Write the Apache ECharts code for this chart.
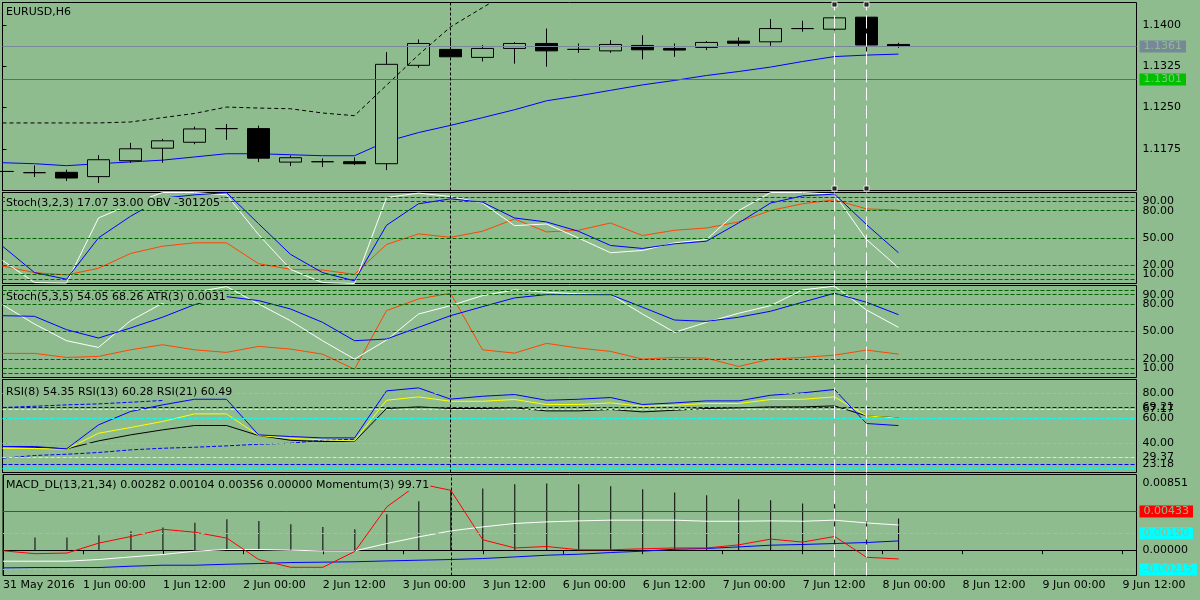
<!DOCTYPE html>
<html>
<head>
<meta charset="utf-8">
<script src="https://cdn.jsdelivr.net/npm/echarts@6.0.0/dist/echarts.min.js"></script>
<style>
html,body{margin:0;padding:0;background:#8FBC8F;}
#chart{width:1200px;height:600px;}
</style>
</head>
<body>
<div id="chart"></div>
<script>
// EURUSD H6, bar 0 = 31 May 2016 (left edge), bar 28 = last bar
var opens  = [1.11338,1.11316,1.11322,1.11244,1.11533,1.11761,1.11869,1.12117,1.12117,1.11508,1.11515,1.11515,1.11479,1.13268,1.13557,1.13412,1.13575,1.13665,1.13557,1.13531,1.13629,1.13575,1.13593,1.13707,1.13695,1.13936,1.13925,1.14143,1.13647];
var highs  = [1.11360,1.11448,1.11371,1.11634,1.11858,1.11931,1.12153,1.12202,1.12171,1.11629,1.11575,1.11593,1.13508,1.13738,1.13756,1.13635,1.13689,1.13936,1.13665,1.13725,1.13815,1.13665,1.13707,1.13774,1.14109,1.14078,1.14155,1.14143,1.13677];
var lows   = [1.11320,1.11237,1.11165,1.11128,1.11497,1.11497,1.11833,1.11913,1.11508,1.11436,1.11418,1.11454,1.11363,1.13224,1.13423,1.13339,1.13298,1.13243,1.13495,1.13495,1.13376,1.13423,1.13545,1.13604,1.13622,1.13879,1.13901,1.13495,1.13586];
var closes = [1.11338,1.11316,1.11219,1.11551,1.11750,1.11895,1.12111,1.12117,1.11580,1.11587,1.11515,1.11479,1.13286,1.13665,1.13423,1.13575,1.13665,1.13531,1.13557,1.13647,1.13550,1.13545,1.13684,1.13670,1.13936,1.13936,1.14131,1.13637,1.13617];
var maLine = [1.11497,1.11479,1.11443,1.11479,1.11511,1.11544,1.11602,1.11660,1.11660,1.11642,1.11624,1.11624,1.11882,1.12045,1.12176,1.12316,1.12460,1.12623,1.12713,1.12813,1.12912,1.12993,1.13083,1.13155,1.13236,1.13337,1.13427,1.13454,1.13472];
var upperDotted = [1.12220,1.12220,1.12220,1.12220,1.12238,1.12316,1.12393,1.12509,1.12491,1.12478,1.12401,1.12352,1.12906,1.13458,1.13965,1.14316,1.14659];

// Stoch(3,2,3) + OBV (OBV read against the 0-100 window)
var stoch1Main   = [25.4,1,0.5,72,87,100,100,97.4,53.8,15.6,1,0,94.5,99.3,95.6,88.4,63.6,65.4,50,33.8,36.3,44.7,48.3,80,100,100,98,48.3,17.4];
var stoch1Signal = [41,12,4.7,50.2,73.8,93.8,97.4,99.9,65.8,32,12,2.9,64,87.6,93,89.4,72,67.6,57.4,41.8,38.5,43.6,46.5,66.5,88.4,96.3,98.2,64.7,33.8];
var obvLine      = [19.2,12,9.4,16.7,33,41,44.7,44.7,21.8,15.6,14.8,10.1,42.9,54.5,50.8,57.4,70.9,56.7,58.5,66.5,52.7,58.5,61,67.6,80.3,87.6,92,82,80.7];

// Stoch(5,3,5) + ATR (ATR read against the 0-100 window)
var stoch2Main   = [79.2,58.1,40,32.7,61.7,80.7,92.7,98.8,80,61.7,40,20,40.7,69,78.1,89,95.2,92.7,90.9,90.1,69,49.1,60,69.8,78.1,95.2,99.3,73.4,54.5];
var stoch2Signal = [67.2,66.5,52,42.9,53.8,65.5,79.2,87.9,83.6,74.5,60,40,41.8,54.5,67.2,77,86.5,90.1,90.1,90,76.4,62.5,61,65.5,72,81.8,91.6,81.8,68.3];
var atrLine      = [26.2,26.2,21.8,22.9,30.1,35.6,30.1,27.3,33.8,30.9,25.4,9,72.7,85.4,91.6,30.1,26.5,37.1,32,28.4,20,21.8,21,12,20,21.8,24.3,29.8,25.4];

var rsi8  = [37.6,37.6,35.7,54.9,65.6,70.9,75.4,75.4,46.9,45.6,44.5,44.5,82.1,84.5,75.5,77.8,79.2,74.6,75.4,76.8,71.2,72.5,74.1,74.1,78.6,80.5,83.2,56,54.35];
var rsi13 = [36.2,36,35.4,48.2,52.8,57.6,63.7,63.7,46.4,44.2,42.9,42.1,74.6,77.3,73.8,73.8,75.2,71.2,71.2,72.5,69.8,70.6,72,72,75.2,75.4,77.3,62.1,60.28];
var rsi21 = [37.6,37,35.7,42.1,46.9,50.9,54.4,54.4,46.4,42.6,41.6,41.6,68,69.3,68,68,68.5,66.1,66.1,67.2,65.3,66.6,68,68.5,69.3,69.3,70.1,62.1,60.49];
var rsiUpperBand = [68.8,69.8,70.9,71.7,73,74.4];
var rsiLowerBand = [28.2,30.4,31.4,32.8,34.9,36.2,37,38.1,39.4,40.2,42.6,43.4];

var macdHist   = [null,0.00142,0.00142,0.00168,0.00213,0.00254,0.00306,0.00347,0.00328,0.00291,0.00261,0.00235,0.00403,0.00548,0.00671,0.00690,0.00738,0.00746,0.00738,0.00716,0.00683,0.00645,0.00615,0.00571,0.00559,0.00522,0.00515,0.00436,0.00356];
var macdMain   = [-0.00123,-0.00123,-0.00123,-0.00104,-0.00075,-0.00048,-0.00011,0.00008,0.00008,0,-0.00008,-0.00008,0.00075,0.00149,0.00216,0.00261,0.00299,0.00317,0.00328,0.00336,0.00336,0.00336,0.00324,0.00324,0.00328,0.00324,0.00336,0.00305,0.00282];
var macdSignal = [-0.00198,-0.00194,-0.00194,-0.00194,-0.00179,-0.00168,-0.00168,-0.00157,-0.00149,-0.00138,-0.00134,-0.00129,-0.00120,-0.00112,-0.00104,-0.00093,-0.00075,-0.00056,-0.00045,-0.00026,-0.00011,0.00011,0.00019,0.00037,0.00056,0.00064,0.00075,0.00086,0.00104];
var momentum   = [99.760,99.742,99.746,99.807,99.847,99.891,99.873,99.837,99.706,99.659,99.659,99.756,100.028,100.169,100.129,99.827,99.777,99.786,99.766,99.766,99.772,99.777,99.777,99.796,99.831,99.813,99.847,99.720,99.71];

var timeLabels = ['31 May 2016','1 Jun 00:00','1 Jun 12:00','2 Jun 00:00','2 Jun 12:00','3 Jun 00:00','3 Jun 12:00','6 Jun 00:00','6 Jun 12:00','7 Jun 00:00','7 Jun 12:00','8 Jun 00:00','8 Jun 12:00','9 Jun 00:00','9 Jun 12:00'];
var priceTicks = [1.1175,1.1250,1.1325,1.1400];
var stochLevels = [5,10,20,50,80,90,95];
var rsiCyanLevels = [20,40,60,80];
var rsiBlueLevels = [23.18,69.21];
var rsiYellowLevels = [29.37,67.17];
var rsiTicks = [20,23.18,29.37,40,60,67.17,69.21,80];
var bidPrice = 1.1361, linePrice = 1.1301;
var macdRedLevel = 0.00433, macdCyanLevels = [0.00190,-0.00215];
var macdTop = 0.00851;
var markedBars = [26,27], cursorBar = 14;

var BG = '#8FBC8F';
var FONT = 'DejaVu Sans';
var BARS_PER_LABEL = 2.5;
var X_MAX = 35.4375;
// window ranges picked so the level lines fall on whole pixel rows
var mainMin = 1.109918, mainMax = 1.1441;
var rsiMin = 16.8, rsiMax = 91.2;
var macdMin = -0.00283, macdMax = 0.00847;

// half-pixel edges keep the 1px frames crisp
var panels = [
	{top:2.5, height:188},
	{top:192.5, height:91},
	{top:285.5, height:92},
	{top:379.5, height:93},
	{top:474.5, height:101}
];

function pts(arr){
	var out = [];
	for(var i=0;i<arr.length;i++){
		out.push([i, arr[i] == null ? null : arr[i]]);
	}
	return out;
}

function line(k, arr, color, z, yIdx){
	return {type:'line', xAxisIndex:k, yAxisIndex:(yIdx == null ? k : yIdx), data:pts(arr),
		symbol:'none', z:z, silent:true, connectNulls:false,
		lineStyle:{color:color, width:1}};
}

// empty series that only carries one group of markLines, styled at series level
function marks(k, items, color, type, z, label){
	return {type:'line', xAxisIndex:k, yAxisIndex:k, data:[], z:z, silent:true, color:color,
		markLine:{silent:true, symbol:'none', precision:6, animation:false,
			lineStyle:{color:color, type:type, width:1, opacity:1},
			label:label || {show:false}, data:items}};
}

function hLevels(vals){
	return vals.map(function(v){ return {yAxis:v}; });
}

function boxLabel(bg, digits){
	return {show:true, position:'end', distance:3, color:BG,
		formatter:function(p){ return (+p.value).toFixed(digits); },
		backgroundColor:bg, padding:[1,4,0,4], fontFamily:FONT, fontSize:11};
}

function vMarks(k){
	return [
		marks(k, [{xAxis:cursorBar}], '#000', [3,2], 5),
		marks(k, markedBars.map(function(b){ return {xAxis:b}; }), '#fff', [13,5], 5)
	];
}

var tickVals = timeLabels.map(function(s,k){ return k*BARS_PER_LABEL; });

var grids = [], xAxes = [], yAxes = [];
panels.forEach(function(p,k){
	grids.push({left:2.5, width:1134, top:p.top, height:p.height, show:true,
		borderColor:'#000', borderWidth:1, backgroundColor:'transparent'});
	var last = (k == panels.length-1);
	xAxes.push({type:'value', gridIndex:k, min:0, max:X_MAX,
		axisLine:{show:last, lineStyle:{color:'#000'}},
		axisTick:{show:last, length:4, customValues:tickVals, lineStyle:{color:'#000'}},
		axisLabel:{show:last, customValues:tickVals, align:'left', margin:4, hideOverlap:false,
			color:'#000', fontFamily:FONT, fontSize:11,
			formatter:function(v){ return timeLabels[Math.round(v/BARS_PER_LABEL)]; }},
		splitLine:{show:false}});
});

function yAxis(k, min, max, ticks, digits){
	return {type:'value', gridIndex:k, position:'right', min:min, max:max,
		axisLine:{show:true, lineStyle:{color:'#000'}},
		axisTick:{show:true, length:4, customValues:ticks, lineStyle:{color:'#000'}},
		axisLabel:{customValues:ticks, margin:6, hideOverlap:false, color:'#000', fontFamily:FONT, fontSize:11,
			formatter:function(v){ return v.toFixed(digits); }},
		splitLine:{show:false}};
}

yAxes.push(yAxis(0, mainMin, mainMax, priceTicks, 4));
yAxes.push(yAxis(1, 0, 100, stochLevels, 2));
yAxes.push(yAxis(2, 0, 100, stochLevels, 2));
yAxes.push(yAxis(3, rsiMin, rsiMax, rsiTicks, 2));
yAxes.push(yAxis(4, macdMin, macdMax, [0], 5));
// momentum has its own hidden scale inside the MACD window
yAxes.push({type:'value', gridIndex:4, min:99.609, max:100.2253, show:false, splitLine:{show:false}});

var candleData = [];
for(var i=0;i<opens.length;i++){
	candleData.push([i, opens[i], closes[i], lows[i], highs[i]]);
}

var squares = [];
markedBars.forEach(function(b){
	squares.push({value:[b, mainMax], symbolOffset:[0,2]});
	squares.push({value:[b, mainMin], symbolOffset:[0,-2]});
});

var series = [];
// main window
series.push(marks(0, hLevels([bidPrice]), '#778899', 'solid', 1, boxLabel('#778899', 4)));
series.push(marks(0, hLevels([linePrice]), '#00B000', 'solid', 1, boxLabel('#00C000', 4)));
series.push(line(0, maLine, '#0000FF', 2));
series.push({type:'candlestick', xAxisIndex:0, yAxisIndex:0, data:candleData, z:3, silent:true,
	encode:{x:0, y:[1,2,3,4]}, barWidth:22,
	itemStyle:{color:BG, color0:'#000', borderColor:'#000', borderColor0:'#000', borderColorDoji:'#000', borderWidth:1}});
var dotted = line(0, upperDotted, '#000', 4);
dotted.lineStyle.type = [4,3];
series.push(dotted);
series = series.concat(vMarks(0));
series.push({type:'scatter', xAxisIndex:0, yAxisIndex:0, data:squares, z:6, clip:false, silent:true,
	symbol:'rect', symbolSize:5, itemStyle:{color:'#000', borderColor:'#fff', borderWidth:1}});

// stochastic windows
[[1, stoch1Main, stoch1Signal, obvLine], [2, stoch2Main, stoch2Signal, atrLine]].forEach(function(s){
	var k = s[0];
	series.push(marks(k, hLevels(stochLevels), '#006400', [4,2], 1));
	series.push(line(k, s[3], '#FF4500', 2));
	series.push(line(k, s[1], '#FFFFFF', 3));
	series.push(line(k, s[2], '#0000FF', 3));
	series = series.concat(vMarks(k));
});

// RSI window
series.push(marks(3, hLevels(rsiCyanLevels), '#00FFFF', [4,2], 1));
series.push(marks(3, hLevels(rsiBlueLevels), '#0000FF', [4,2], 1));
series.push(marks(3, hLevels(rsiYellowLevels), '#FFFF00', [4,2], 1));
var ub = line(3, rsiUpperBand, '#0000FF', 2); ub.lineStyle.type = [4,2];
var lb = line(3, rsiLowerBand, '#0000FF', 2); lb.lineStyle.type = [4,2];
series.push(ub, lb);
series.push(line(3, rsi21, '#000000', 3));
series.push(line(3, rsi13, '#FFFF00', 3));
series.push(line(3, rsi8, '#0000FF', 3));
series = series.concat(vMarks(3));

// MACD + momentum window
series.push(marks(4, hLevels([macdRedLevel]), '#FF0000', 'solid', 1, boxLabel('#FF0000', 5)));
series.push(marks(4, hLevels(macdCyanLevels), '#00FFFF', [4,2], 1, boxLabel('#00FFFF', 5)));
// window maximum, printed just under the top edge
series.push(marks(4, hLevels([macdMax]), 'rgba(0,0,0,0)', 'solid', 1,
	{show:true, position:'end', distance:6, formatter:macdTop.toFixed(5), color:'#000',
		fontFamily:FONT, fontSize:11, verticalAlign:'top', padding:[3,0,0,0]}));
series.push({type:'bar', xAxisIndex:4, yAxisIndex:4, data:pts(macdHist), barWidth:1, z:2, silent:true,
	itemStyle:{color:'#000'}});
series.push(line(4, macdSignal, '#0000FF', 3));
series.push(line(4, macdMain, '#FFFFFF', 3));
series.push(line(4, momentum, '#FF0000', 3, 5));
series = series.concat(vMarks(4));

function caption(text, top){
	return {text:text, left:5, top:top, padding:[0,1], backgroundColor:BG,
		textStyle:{color:'#000', fontFamily:FONT, fontSize:11, fontWeight:'normal', lineHeight:12}};
}

var option = {
	animation:false,
	backgroundColor:BG,
	title:[
		caption('EURUSD,H6', 6),
		caption('Stoch(3,2,3) 17.07 33.00 OBV -301205', 197),
		caption('Stoch(5,3,5) 54.05 68.26 ATR(3) 0.0031', 291),
		caption('RSI(8) 54.35 RSI(13) 60.28 RSI(21) 60.49', 386),
		caption('MACD_DL(13,21,34) 0.00282 0.00104 0.00356 0.00000 Momentum(3) 99.71', 479)
	],
	grid:grids,
	xAxis:xAxes,
	yAxis:yAxes,
	series:series
};

var myChart = echarts.init(document.getElementById('chart'));
myChart.setOption(option);
</script>
</body>
</html>
